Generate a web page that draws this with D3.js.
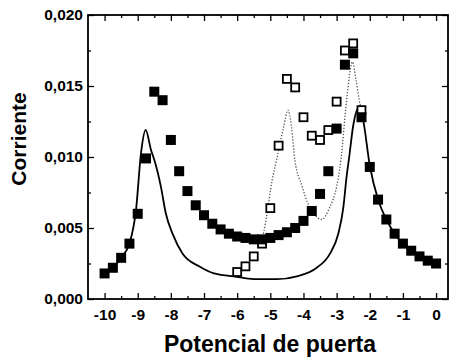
<!DOCTYPE html>
<html>
<head>
<meta charset="utf-8">
<script src="https://cdn.jsdelivr.net/npm/d3@7"></script>
<style>
  html, body { margin: 0; padding: 0; background: #fff; }
  svg { display: block; font-family: "Liberation Sans", Arial, sans-serif; }
  .tick text { font-size: 15.5px; font-weight: bold; fill: #000; }
  .tick line { stroke: #000; stroke-width: 1.3; }
</style>
</head>
<body>
<svg id="chart" width="450" height="362"></svg>
<script>
"use strict";
// Corriente vs potencial de puerta: filled squares, open squares, solid + dotted curves.

const xTicks = [-10, -9, -8, -7, -6, -5, -4, -3, -2, -1, 0];
const yTicks = [0, 0.005, 0.010, 0.015, 0.020];

// filled squares
const filledV = [-10, -9.75, -9.5, -9.25, -9, -8.75, -8.5, -8.25, -8, -7.75, -7.5, -7.25, -7, -6.75, -6.5, -6.25,
  -6, -5.75, -5.5, -5.25, -5, -4.75, -4.5, -4.25, -4, -3.75, -3.5, -3.25, -3, -2.75, -2.5, -2.25,
  -2, -1.75, -1.5, -1.25, -1, -0.75, -0.5, -0.25, 0];
const filledI = [0.0018, 0.0022, 0.0029, 0.0039, 0.0060, 0.0099, 0.0146, 0.0140, 0.0112, 0.0090, 0.0076, 0.0066, 0.0059, 0.0053, 0.0049, 0.0046,
  0.0044, 0.0043, 0.0042, 0.0042, 0.0043, 0.0045, 0.0047, 0.0050, 0.0055, 0.0062, 0.0074, 0.0090, 0.0120, 0.0165, 0.0173, 0.0128,
  0.0093, 0.0070, 0.0056, 0.0046, 0.0039, 0.0034, 0.0030, 0.0027, 0.0025];

// open squares
const openV = [-6, -5.75, -5.5, -5.25, -5, -4.75, -4.5, -4.25, -4, -3.75, -3.5, -3.25, -3, -2.75, -2.5, -2.25];
const openI = [0.0019, 0.0023, 0.0030, 0.0039, 0.0064, 0.0108, 0.0155, 0.0149, 0.0128, 0.0115, 0.0112, 0.0119, 0.0139, 0.0175, 0.0180, 0.0133];

// solid curve
const solidV = [-10, -9.75, -9.5, -9.25, -9.05, -8.9, -8.76, -8.6, -8.5, -8.3, -8.15, -7.95, -7.65, -7.15, -6.7, -6.1,
  -5.5, -4.8, -4.2, -3.6, -3.2, -2.95, -2.8, -2.7, -2.62, -2.5, -2.33, -2.2, -2, -1.75, -1.5, -1.25, -1, -0.75, -0.5, -0.25, 0];
const solidI = [0.0018, 0.0022, 0.0029, 0.0039, 0.0063, 0.0103, 0.0119, 0.0105, 0.0098, 0.0079, 0.0060, 0.0046, 0.0032, 0.0023, 0.0018, 0.0016,
  0.0014, 0.0014, 0.0016, 0.0022, 0.0032, 0.0046, 0.0064, 0.0086, 0.0100, 0.0122, 0.0135, 0.0126, 0.0094, 0.0070, 0.0056, 0.0046, 0.0039, 0.0034, 0.0030, 0.0027, 0.0025];

// dotted curve
const dottedV = [-5.3, -5.2, -5.1, -4.95, -4.81, -4.6, -4.47, -4.36, -4.26, -4.05, -3.86, -3.65, -3.45, -3.2, -3.0, -2.87, -2.7, -2.52, -2.42, -2.3, -2.22];
const dottedI = [0.0040, 0.0047, 0.0060, 0.0083, 0.0098, 0.0121, 0.0133, 0.0121, 0.0098, 0.0080, 0.0067, 0.0059, 0.0056, 0.0065, 0.0079, 0.0098, 0.0140, 0.0167, 0.0155, 0.0138, 0.0131];

const svg = d3.select("#chart");
const mLeft = 88, mRight = 448, mTop = 15, mBottom = 299;

const x = d3.scaleLinear().domain([-10.5, 0.36]).range([mLeft, mRight]);
const y = d3.scaleLinear().domain([0, 0.020]).range([mBottom, mTop]);

const zip = (a, b) => a.map((v, i) => [v, b[i]]);
const fmtY = (d) => d3.format(".3f")(d).replace(".", ",");
const xMinor = xTicks.slice(0, -1).map((d) => d + 0.5);
const yMinor = yTicks.slice(0, -1).map((d) => d + 0.0025);

// ---- axes (ticks point inward on all four sides) ----
svg.append("g").attr("transform", `translate(0,${mBottom})`)
  .call(d3.axisBottom(x).tickValues(xTicks).tickFormat((d) => String(d)).tickSizeInner(-6).tickSizeOuter(0).tickPadding(10));
svg.append("g").attr("transform", `translate(0,${mBottom})`)
  .call(d3.axisBottom(x).tickValues(xMinor).tickFormat("").tickSizeInner(-3).tickSizeOuter(0));
svg.append("g").attr("transform", `translate(0,${mTop})`)
  .call(d3.axisTop(x).tickValues(xTicks).tickFormat("").tickSizeInner(-6).tickSizeOuter(0));
svg.append("g").attr("transform", `translate(0,${mTop})`)
  .call(d3.axisTop(x).tickValues(xMinor).tickFormat("").tickSizeInner(-3).tickSizeOuter(0));

svg.append("g").attr("transform", `translate(${mLeft},0)`)
  .call(d3.axisLeft(y).tickValues(yTicks).tickFormat(fmtY).tickSizeInner(-6).tickSizeOuter(0).tickPadding(5));
svg.append("g").attr("transform", `translate(${mLeft},0)`)
  .call(d3.axisLeft(y).tickValues(yMinor).tickFormat("").tickSizeInner(-3).tickSizeOuter(0));
svg.append("g").attr("transform", `translate(${mRight},0)`)
  .call(d3.axisRight(y).tickValues(yTicks).tickFormat("").tickSizeInner(-6).tickSizeOuter(0));
svg.append("g").attr("transform", `translate(${mRight},0)`)
  .call(d3.axisRight(y).tickValues(yMinor).tickFormat("").tickSizeInner(-3).tickSizeOuter(0));
svg.selectAll(".domain").remove();

svg.append("rect").attr("x", mLeft).attr("y", mTop).attr("width", mRight - mLeft).attr("height", mBottom - mTop)
  .attr("fill", "none").attr("stroke", "#000").attr("stroke-width", 1.8);

// ---- curves ----
const line = d3.line().x((d) => x(d[0])).y((d) => y(d[1])).curve(d3.curveMonotoneX);
svg.append("path").datum(zip(solidV, solidI)).attr("d", line)
  .attr("fill", "none").attr("stroke", "#000").attr("stroke-width", 1.8);
svg.append("path").datum(zip(dottedV, dottedI)).attr("d", line)
  .attr("fill", "none").attr("stroke", "#555").attr("stroke-width", 1.3).attr("stroke-dasharray", "1.3 1.7");

// ---- markers ----
const so = 8, sf = 10;
svg.append("g").selectAll("rect").data(zip(openV, openI)).enter().append("rect")
  .attr("x", (d) => x(d[0]) - so / 2).attr("y", (d) => y(d[1]) - so / 2)
  .attr("width", so).attr("height", so)
  .attr("fill", "#fff").attr("stroke", "#000").attr("stroke-width", 1.8);
svg.append("g").selectAll("rect").data(zip(filledV, filledI)).enter().append("rect")
  .attr("x", (d) => x(d[0]) - sf / 2).attr("y", (d) => y(d[1]) - sf / 2)
  .attr("width", sf).attr("height", sf).attr("fill", "#000");

// ---- titles ----
svg.append("text").attr("x", 270).attr("y", 352).attr("text-anchor", "middle")
  .attr("font-size", 23).attr("font-weight", "bold").text("Potencial de puerta");
svg.append("text").attr("transform", "translate(26,139) rotate(-90)").attr("text-anchor", "middle")
  .attr("font-size", 21).attr("font-weight", "bold").text("Corriente");
</script>
</body>
</html>
